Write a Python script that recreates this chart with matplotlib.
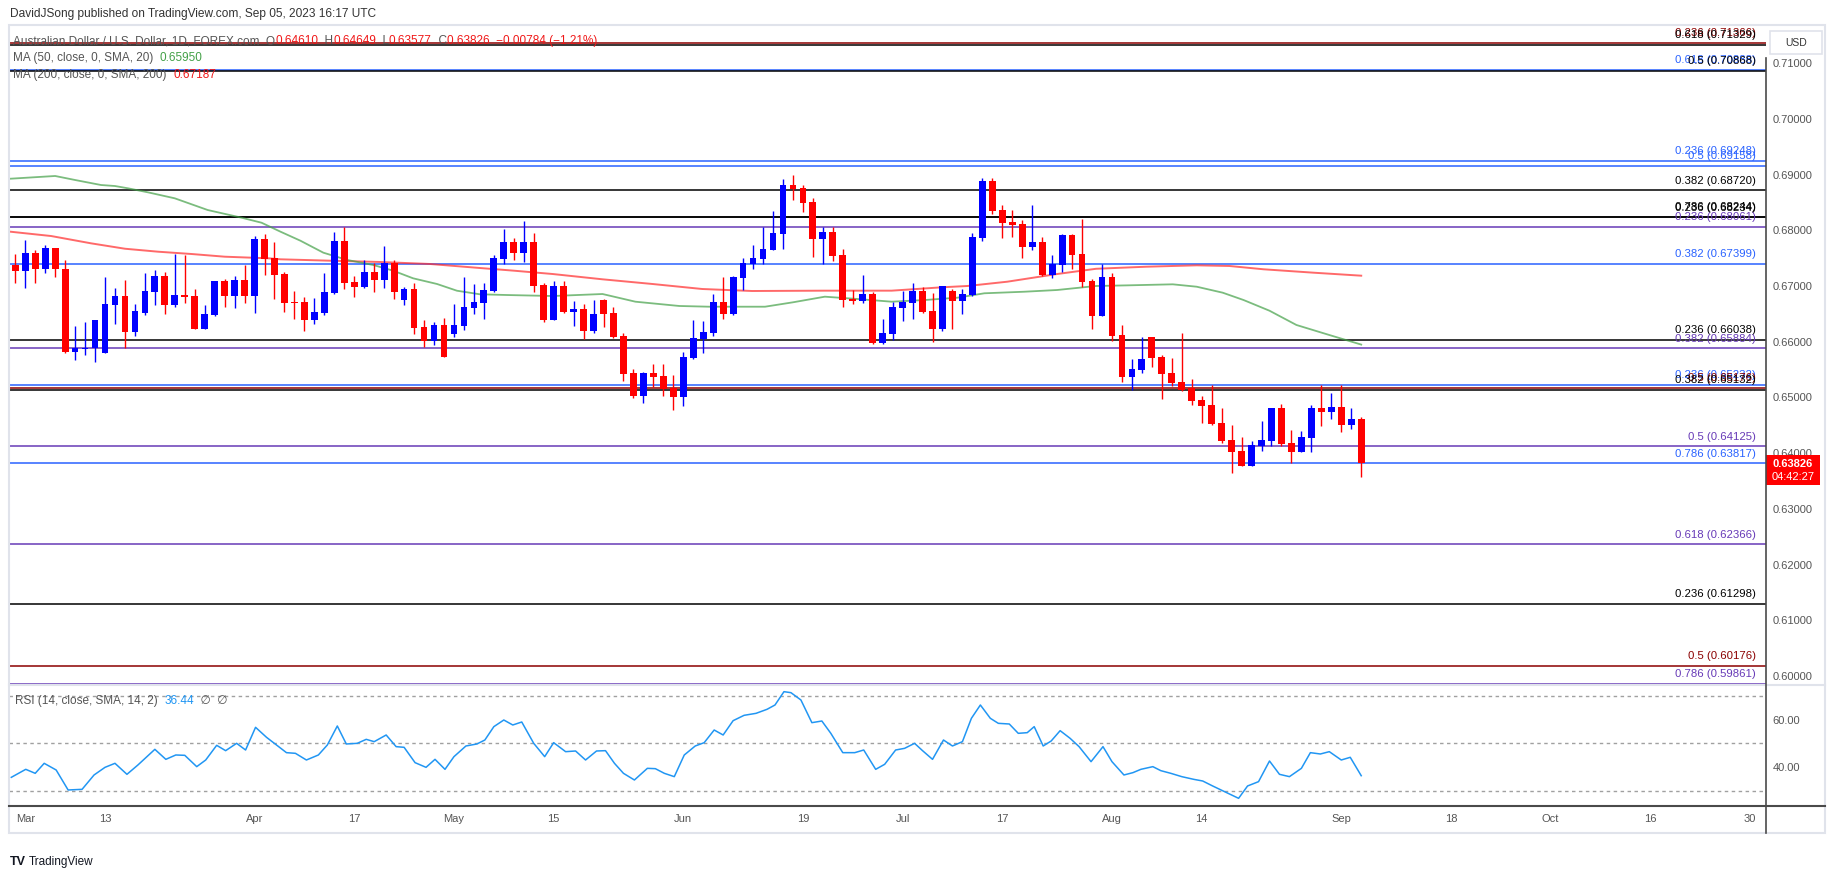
import matplotlib
matplotlib.use("Agg")
import matplotlib.pyplot as plt
import matplotlib.transforms as mtransforms
from matplotlib.patches import Rectangle
from matplotlib.lines import Line2D
import pandas as pd

plt.rcParams["font.family"] = ["Liberation Sans", "DejaVu Sans"]

W, H = 1835, 869

# daily AUD/USD candles, Feb 28 - Sep 5 2023
dates = pd.bdate_range("2023-02-28", "2023-09-05")
opens = [0.67378, 0.67277, 0.67588, 0.67301, 0.67678, 0.67301, 0.65822, 0.65870, 0.65882, 0.65805,
         0.66660, 0.66822, 0.66182, 0.66523, 0.66900, 0.67181, 0.66660, 0.66840, 0.66822, 0.66235,
         0.66481, 0.67091, 0.66822, 0.67109, 0.66822, 0.67845, 0.67504, 0.67217, 0.66714, 0.66714,
         0.66391, 0.66523, 0.66870, 0.67809, 0.67073, 0.66989, 0.67253, 0.67109, 0.67420, 0.66756,
         0.66948, 0.66265, 0.66020, 0.66301, 0.66146, 0.66289, 0.66612, 0.66702, 0.66912, 0.67492,
         0.67791, 0.67600, 0.67791, 0.67019, 0.66391, 0.67002, 0.66535, 0.66589, 0.66194, 0.66751,
         0.66517, 0.66104, 0.65440, 0.65027, 0.65440, 0.65386, 0.65171, 0.65009, 0.65709, 0.66050,
         0.66158, 0.66715, 0.66499, 0.67146, 0.67397, 0.67487, 0.67648, 0.67935, 0.68815, 0.68761,
         0.68510, 0.67846, 0.67971, 0.67558, 0.66768, 0.66733, 0.66858, 0.65978, 0.66140, 0.66607,
         0.66697, 0.66912, 0.66553, 0.66230, 0.66912, 0.66733, 0.66840, 0.67864, 0.68887, 0.68366,
         0.68151, 0.68115, 0.67702, 0.67792, 0.67199, 0.67379, 0.67918, 0.67576, 0.67092, 0.66463,
         0.67169, 0.66122, 0.65368, 0.65494, 0.66086, 0.65727, 0.65440, 0.65278, 0.65171, 0.64955,
         0.64865, 0.64542, 0.64237, 0.64039, 0.63776, 0.64129, 0.64219, 0.64811, 0.64180, 0.64027,
         0.64279, 0.64811, 0.64740, 0.64829, 0.64506, 0.64610]
highs = [0.67576, 0.67827, 0.67648, 0.67738, 0.67690, 0.67468, 0.66283, 0.66355, 0.66400, 0.67169,
         0.66971, 0.67109, 0.66678, 0.67241, 0.67289, 0.67259, 0.67576, 0.67558, 0.66948, 0.66660,
         0.67100, 0.67133, 0.67181, 0.67378, 0.67899, 0.67935, 0.67791, 0.67247, 0.66912, 0.66810,
         0.66786, 0.67235, 0.67971, 0.68055, 0.67181, 0.67468, 0.67408, 0.67720, 0.67468, 0.66983,
         0.67055, 0.66391, 0.66355, 0.66421, 0.66678, 0.67163, 0.67037, 0.67055, 0.67558, 0.68025,
         0.67863, 0.68168, 0.67953, 0.67055, 0.67092, 0.67092, 0.66733, 0.66679, 0.66751, 0.66760,
         0.66625, 0.66158, 0.65512, 0.65450, 0.65601, 0.65601, 0.65404, 0.65817, 0.66391, 0.66374,
         0.66858, 0.67163, 0.67181, 0.67505, 0.67738, 0.68061, 0.68348, 0.68923, 0.68995, 0.68815,
         0.68582, 0.68055, 0.68055, 0.67666, 0.66930, 0.67199, 0.66894, 0.66409, 0.66715, 0.66912,
         0.67056, 0.66984, 0.66876, 0.67010, 0.66948, 0.66948, 0.67953, 0.68941, 0.68941, 0.68456,
         0.68366, 0.68187, 0.68456, 0.67882, 0.67558, 0.67935, 0.67935, 0.68205, 0.67128, 0.67397,
         0.67229, 0.66302, 0.65691, 0.66086, 0.66095, 0.65763, 0.65709, 0.66158, 0.65332, 0.65027,
         0.65225, 0.64817, 0.64512, 0.64291, 0.64219, 0.64578, 0.64820, 0.64883, 0.64416, 0.64398,
         0.64865, 0.65224, 0.65081, 0.65224, 0.64811, 0.64649]
lows = [0.67049, 0.66960, 0.67061, 0.67241, 0.67169, 0.65805, 0.65673, 0.65769, 0.65643, 0.65795,
        0.66319, 0.65882, 0.66110, 0.66481, 0.66660, 0.66499, 0.66618, 0.66702, 0.66225, 0.66225,
        0.66469, 0.66630, 0.66612, 0.66702, 0.66523, 0.67199, 0.66774, 0.66535, 0.66415, 0.66194,
        0.66319, 0.66481, 0.66858, 0.66948, 0.66810, 0.66971, 0.66894, 0.66971, 0.66774, 0.66660,
        0.66146, 0.65912, 0.65942, 0.65725, 0.66080, 0.66211, 0.66499, 0.66409, 0.66894, 0.67402,
        0.67468, 0.67432, 0.66900, 0.66355, 0.66385, 0.66517, 0.66284, 0.66050, 0.66158, 0.66266,
        0.66068, 0.65296, 0.64991, 0.64901, 0.65189, 0.65027, 0.64776, 0.64847, 0.65691, 0.65799,
        0.66104, 0.66409, 0.66490, 0.66930, 0.67307, 0.67397, 0.67640, 0.67666, 0.68546, 0.68330,
        0.67523, 0.67397, 0.67457, 0.66631, 0.66679, 0.66697, 0.65960, 0.65960, 0.66032, 0.66374,
        0.66409, 0.66525, 0.65996, 0.66194, 0.66230, 0.66499, 0.66822, 0.67810, 0.68295, 0.67864,
        0.67882, 0.67505, 0.67648, 0.67190, 0.67146, 0.67253, 0.67307, 0.66984, 0.66230, 0.66455,
        0.66014, 0.65278, 0.65135, 0.65440, 0.65548, 0.64973, 0.65207, 0.65125, 0.64865, 0.64542,
        0.64515, 0.64177, 0.63650, 0.63765, 0.63765, 0.64039, 0.64129, 0.64129, 0.63818, 0.64020,
        0.64027, 0.64488, 0.64614, 0.64380, 0.64434, 0.63577]
closes = [0.67277, 0.67588, 0.67301, 0.67678, 0.67301, 0.65822, 0.65882, 0.65882, 0.66391, 0.66678,
          0.66822, 0.66182, 0.66553, 0.66912, 0.67181, 0.66660, 0.66840, 0.66810, 0.66235, 0.66499,
          0.67091, 0.66822, 0.67109, 0.66822, 0.67845, 0.67492, 0.67199, 0.66702, 0.66702, 0.66391,
          0.66535, 0.66894, 0.67809, 0.67061, 0.66989, 0.67253, 0.67109, 0.67420, 0.66900, 0.66948,
          0.66253, 0.66020, 0.66301, 0.65733, 0.66301, 0.66624, 0.66714, 0.66930, 0.67504, 0.67791,
          0.67600, 0.67791, 0.67007, 0.66391, 0.67002, 0.66535, 0.66589, 0.66194, 0.66499, 0.66499,
          0.66086, 0.65422, 0.65027, 0.65440, 0.65368, 0.65153, 0.65009, 0.65727, 0.66068, 0.66176,
          0.66715, 0.66499, 0.67163, 0.67415, 0.67505, 0.67666, 0.67953, 0.68815, 0.68743, 0.68492,
          0.67846, 0.67971, 0.67546, 0.66751, 0.66733, 0.66858, 0.65978, 0.66158, 0.66625, 0.66715,
          0.66912, 0.66535, 0.66230, 0.67002, 0.66733, 0.66858, 0.67882, 0.68887, 0.68348, 0.68133,
          0.68097, 0.67702, 0.67792, 0.67199, 0.67397, 0.67918, 0.67558, 0.67074, 0.66463, 0.67169,
          0.66104, 0.65368, 0.65512, 0.65691, 0.65709, 0.65422, 0.65260, 0.65135, 0.64937, 0.64847,
          0.64524, 0.64225, 0.64027, 0.63776, 0.64147, 0.64237, 0.64811, 0.64171, 0.64027, 0.64291,
          0.64811, 0.64740, 0.64829, 0.64506, 0.64614, 0.63826]

# moving averages (bar position, price)
ma50_pos = [-0.5, 4.0, 6.0, 8.6, 10.0, 11.3, 13.3, 16.0, 19.3, 22.7, 24.7, 26.6, 28.6, 30.9, 33.3,
            35.9, 37.9, 39.9, 42.3, 44.3, 46.6, 49.3, 53.9, 58.9, 62.2, 66.6, 69.6, 72.2, 75.2, 78.0,
            81.2, 84.5, 87.9, 91.2, 94.5, 97.2, 101.2, 104.5, 108.4, 111.7, 116.1, 118.5, 121.1,
            123.2, 125.8, 128.5, 131.8, 135.0]
ma50_val = [0.68928, 0.68977, 0.68905, 0.68815, 0.68797, 0.68756, 0.68684, 0.68576, 0.68366, 0.68228,
            0.68138, 0.67977, 0.67815, 0.67600, 0.67469, 0.67379, 0.67277, 0.67140, 0.67038, 0.66917,
            0.66853, 0.66840, 0.66822, 0.66858, 0.66720, 0.66643, 0.66630, 0.66630, 0.66630, 0.66709,
            0.66810, 0.66768, 0.66720, 0.66750, 0.66792, 0.66871, 0.66899, 0.66930, 0.67002, 0.67014,
            0.67032, 0.66989, 0.66882, 0.66750, 0.66558, 0.66302, 0.66122, 0.65950]
ma200_pos = [-0.5, 3.6, 7.6, 11.0, 14.3, 17.7, 21.0, 25.4, 26.6, 31.6, 36.6, 41.6, 46.6, 50.0, 53.9,
             58.9, 63.9, 68.9, 73.9, 81.2, 87.9, 92.9, 95.5, 99.5, 104.5, 108.4, 113.4, 118.5, 121.8,
             125.2, 130.2, 135.0]
ma200_val = [0.67977, 0.67899, 0.67768, 0.67671, 0.67618, 0.67576, 0.67528, 0.67499, 0.67481, 0.67456,
             0.67433, 0.67397, 0.67325, 0.67277, 0.67217, 0.67122, 0.67038, 0.66948, 0.66912, 0.66918,
             0.66918, 0.66978, 0.67002, 0.67079, 0.67217, 0.67311, 0.67348, 0.67373, 0.67361, 0.67302,
             0.67241, 0.67187]

# RSI(14)
rsi_pos = [-0.4, 1.05, 2.0, 2.9, 4.1, 5.3, 6.7, 7.9, 9.0, 10.0, 11.2, 12.3, 14.0, 15.1, 16.1, 17.0,
           18.2, 19.1, 20.2, 21.1, 22.2, 23.1, 24.1, 25.2, 27.2, 28.1, 29.2, 30.4, 31.3, 32.3, 33.2,
           34.3, 35.2, 36.0, 37.2, 38.2, 39.0, 40.1, 41.2, 42.1, 43.1, 44.0, 45.2, 46.3, 47.1, 48.0,
           49.0, 49.9, 50.8, 52.0, 53.1, 54.0, 55.2, 56.2, 57.2, 58.3, 59.2, 60.1, 61.0, 62.1, 63.4,
           64.2, 65.1, 66.1, 67.1, 68.2, 69.1, 70.1, 71.0, 72.0, 73.1, 74.3, 75.4, 76.2, 77.1, 77.8,
           78.8, 79.9, 80.9, 81.8, 83.0, 84.2, 85.1, 86.3, 87.2, 88.3, 89.2, 90.2, 91.0, 92.0, 93.1,
           94.0, 95.0, 95.9, 96.8, 97.8, 98.6, 99.7, 100.6, 101.5, 102.2, 103.1, 103.9, 104.8, 105.8,
           106.7, 107.9, 109.1, 110.0, 111.2, 112.1, 112.9, 114.1, 114.9, 115.9, 117.0, 118.2, 119.1,
           120.1, 121.3, 122.7, 123.6, 124.7, 125.8, 126.8, 127.8, 129.0, 129.9, 130.9, 131.8, 133.0,
           133.9, 135.0]
rsi_val = [35.75, 39.12, 37.44, 41.65, 38.84, 30.42, 30.70, 36.74, 39.96, 41.65, 37.02, 40.95, 47.54,
           43.33, 45.16, 45.02, 40.25, 43.05, 49.23, 46.98, 50.07, 47.26, 56.81, 52.60, 46.14, 45.86,
           43.05, 45.16, 49.37, 57.37, 49.79, 50.07, 51.75, 50.77, 53.58, 48.67, 48.39, 41.93, 39.96,
           43.33, 39.12, 44.46, 48.95, 49.79, 51.47, 57.09, 59.89, 57.79, 59.05, 50.07, 44.46, 50.35,
           46.56, 46.84, 43.05, 46.84, 46.98, 41.65, 37.44, 34.63, 39.54, 39.40, 37.44, 36.04, 45.16,
           48.95, 50.35, 55.68, 53.58, 59.61, 61.86, 62.70, 64.39, 66.21, 71.82, 71.40, 68.32, 58.77,
           59.47, 54.28, 46.14, 46.14, 47.26, 39.12, 41.23, 47.26, 47.96, 50.07, 46.98, 43.33, 51.47,
           48.95, 50.77, 60.60, 66.21, 60.60, 58.49, 58.21, 54.28, 54.56, 57.09, 48.95, 51.05, 55.40,
           52.18, 48.67, 42.35, 48.67, 42.35, 36.74, 37.72, 39.12, 40.25, 38.56, 37.44, 36.04, 34.91,
           34.21, 32.11, 29.72, 26.91, 32.11, 33.93, 42.63, 37.02, 36.04, 39.54, 46.14, 45.58, 46.56,
           43.05, 44.18, 36.44]

# fibonacci levels drawn on the chart
fib_levels = [0.71366, 0.71329, 0.70888, 0.70868, 0.69248, 0.69158, 0.68720, 0.68244, 0.68234,
              0.68061, 0.67399, 0.66038, 0.65884, 0.65232, 0.65176, 0.65132, 0.64125, 0.63817,
              0.62366, 0.61298, 0.60176, 0.59861]
fib_ratios = ["0.236", "0.618", "0.618", "0.5", "0.236", "0.5", "0.382", "0.786", "0.236",
              "0.236", "0.382", "0.236", "0.382", "0.236", "0.5", "0.382", "0.5", "0.786",
              "0.618", "0.236", "0.5", "0.786"]
fib_colors = ["#8B0000", "#000000", "#2962FF", "#000000", "#2962FF", "#2962FF", "#000000", "#000000",
              "#000000", "#673AB7", "#2962FF", "#000000", "#673AB7", "#2962FF", "#8B0000", "#000000",
              "#673AB7", "#2962FF", "#673AB7", "#000000", "#8B0000", "#673AB7"]

price_ticks = [0.60, 0.61, 0.62, 0.63, 0.64, 0.65, 0.66, 0.67, 0.68, 0.69, 0.70, 0.71]
time_labels = ["Mar", "13", "Apr", "17", "May", "15", "Jun", "19", "Jul", "17", "Aug", "14",
               "Sep", "18", "Oct", "16", "30"]
time_dates = ["2023-03-01", "2023-03-13", "2023-04-03", "2023-04-17", "2023-05-01", "2023-05-15",
              "2023-06-01", "2023-06-19", "2023-07-03", "2023-07-17", "2023-08-01", "2023-08-14",
              "2023-09-01", "2023-09-18", "2023-10-02", "2023-10-16", "2023-10-30"]


def fx(px):
    return px / W


def fy(py):
    return 1 - py / H


fig = plt.figure(figsize=(W / 100, H / 100), dpi=100)
fig.patch.set_facecolor("white")

XMIN, XMAX = -0.63, 175.6

# ---- price pane
ax = fig.add_axes([fx(9), fy(685), fx(1766) - fx(9), fy(27) - fy(685)])
ax.set_xlim(XMIN, XMAX)
ax.set_ylim(0.59838, 0.71652)
for s in ax.spines.values():
    s.set_visible(False)

for lvl, col in zip(fib_levels, fib_colors):
    ax.axhline(lvl, color=col, lw=1.1, zorder=1)
blend = mtransforms.blended_transform_factory(ax.transAxes, ax.transData)
for lvl, r, col in zip(fib_levels, fib_ratios, fib_colors):
    ax.text(0.9943, lvl + 0.0012, f"{r} ({lvl:.5f})", transform=blend, ha="right",
            va="baseline", color=col, fontsize=8.2, zorder=2)

ax.plot(ma200_pos, ma200_val, color="#FF2A2A", alpha=0.7, lw=1.4, zorder=3)
ax.plot(ma50_pos, ma50_val, color="#43A047", alpha=0.7, lw=1.3, zorder=3)

x = list(range(len(dates)))
colors = ["#0000FF" if c > o else "#FF0000" for o, c in zip(opens, closes)]
ax.vlines(x, lows, highs, colors=colors, lw=1.0, zorder=4)
bottoms = [min(o, c) for o, c in zip(opens, closes)]
heights = [max(abs(c - o), 0.00005) for o, c in zip(opens, closes)]
ax.bar(x, heights, 0.68, bottom=bottoms, color=colors, linewidth=0, zorder=5)

ax.set_xticks([])
ax.yaxis.tick_right()
ax.set_yticks(price_ticks)
ax.set_yticklabels([f"{t:.5f}" for t in price_ticks])
ax.tick_params(axis="y", length=0, pad=4.5, labelsize=8, labelcolor="#555555")

# ---- RSI pane
ax2 = fig.add_axes([fx(9), fy(806), fx(1766) - fx(9), fy(685) - fy(806)])
ax2.set_xlim(XMIN, XMAX)
ax2.set_ylim(23.68, 74.63)
ax2.patch.set_alpha(0)
for s in ax2.spines.values():
    s.set_visible(False)
for lvl in [70, 50, 30]:
    ax2.axhline(lvl, color="#A0A0A0", lw=1.0, ls=(0, (2.5, 2.5)))
ax2.plot(rsi_pos, rsi_val, color="#2196F3", lw=1.1)
ax2.yaxis.tick_right()
ax2.set_yticks([40, 60])
ax2.set_yticklabels(["40.00", "60.00"])
ax2.tick_params(axis="y", length=0, pad=4.5, labelsize=8, labelcolor="#555555")

all_days = pd.bdate_range("2023-02-28", "2023-10-31")
ax2.set_xticks([all_days.get_loc(pd.Timestamp(d)) for d in time_dates])
ax2.set_xticklabels(time_labels)
ax2.tick_params(axis="x", length=0, pad=6, labelsize=8, labelcolor="#555555")

# ---- frame lines
fig.add_artist(Rectangle((fx(9), fy(833)), fx(1825) - fx(9), fy(25) - fy(833), fill=False,
                         ec="#E0E3EB", lw=1.5, transform=fig.transFigure))
fig.add_artist(Line2D([fx(9), fx(1825)], [fy(685), fy(685)], color="#E0E3EB", lw=1.5,
                      transform=fig.transFigure))
fig.add_artist(Line2D([fx(9), fx(1825)], [fy(806), fy(806)], color="#4A4A4A", lw=1.5,
                      transform=fig.transFigure))
fig.add_artist(Line2D([fx(1766), fx(1766)], [fy(58), fy(833)], color="#4A4A4A", lw=1.2,
                      transform=fig.transFigure))

# USD box
fig.add_artist(Rectangle((fx(1770), fy(54)), fx(52), 23 / H, fill=True, fc="white",
                         ec="#E0E3EB", lw=1.2, transform=fig.transFigure))
fig.text(fx(1796), fy(43), "USD", ha="center", va="center", fontsize=7.5, color="#333333")

# last price tag
fig.add_artist(Rectangle((fx(1766), fy(485)), fx(54), 30 / H, fc="#FF0000", ec="none",
                         transform=fig.transFigure))
fig.text(fx(1793), fy(464), "0.63826", ha="center", va="center", fontsize=8, color="white",
         fontweight="bold")
fig.text(fx(1793), fy(477), "04:42:27", ha="center", va="center", fontsize=8, color="white")


# ---- header / legends
def chain(host, parts, px, py, size=8.5):
    t = fig.text(fx(px), fy(py), parts[0][0], color=parts[0][1], fontsize=size, va="center",
                 zorder=10)
    for s, c in parts[1:]:
        t = host.annotate(s, xy=(1, 0.5), xycoords=t, xytext=(0, 0), textcoords="offset points",
                          va="center", ha="left", color=c, fontsize=size, annotation_clip=False,
                          zorder=10)


fig.text(fx(10), fy(14), "DavidJSong published on TradingView.com, Sep 05, 2023 16:17 UTC",
         fontsize=8.6, color="#333333", va="center")
red = "#F01818"
gray = "#555555"
chain(ax, [("Australian Dollar / U.S. Dollar, 1D, FOREX.com  O", gray), ("0.64610", red),
           ("  H", gray), ("0.64649", red), ("  L", gray), ("0.63577", red),
           ("  C", gray), ("0.63826  \u22120.00784 (\u22121.21%)", red)], 13, 41)
chain(ax, [("MA (50, close, 0, SMA, 20)  ", gray), ("0.65950", "#43A047")], 13, 58)
chain(ax, [("MA (200, close, 0, SMA, 200)  ", gray), ("0.67187", red)], 13, 75)
chain(ax2, [("RSI (14, close, SMA, 14, 2)  ", gray), ("36.44", "#2196F3"),
            ("  \u2205  \u2205", gray)], 15, 701)

fig.text(fx(10), fy(862), "TV", fontsize=9, fontweight="bold", color="#131722", va="center")
fig.text(fx(29), fy(862), "TradingView", fontsize=8.5, color="#131722", va="center")

plt.savefig("out.png", dpi=100)
